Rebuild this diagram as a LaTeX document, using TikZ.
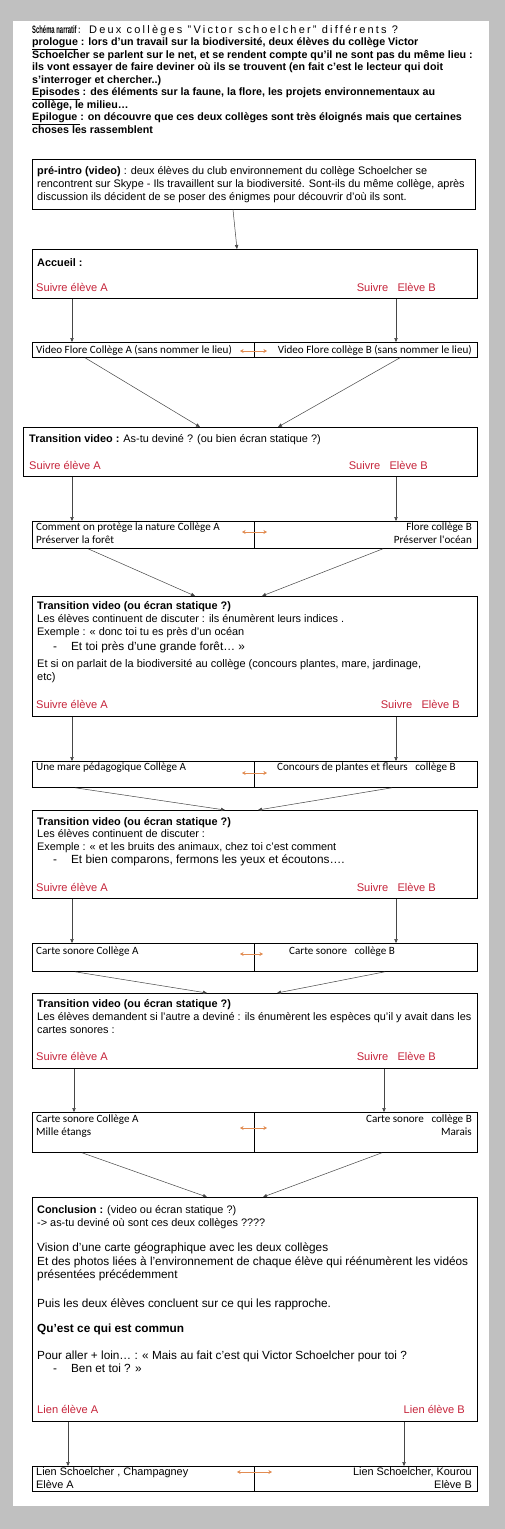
\documentclass[tikz,border=0pt]{standalone}
\usepackage{fontspec}
\setmainfont{Liberation Sans}
\newfontfamily\calibri{Carlito}
\usepackage{xcolor}
\usepackage{graphicx}
\usetikzlibrary{arrows.meta,calc}

\definecolor{pagegray}{RGB}{192,192,192}
\definecolor{pickred}{RGB}{198,36,58}
\definecolor{swaporange}{RGB}{226,140,82}
\definecolor{linkgray}{RGB}{70,70,70}

\begin{document}
\begin{tikzpicture}[
x=1pt,y=-1pt,
>={Triangle[length=4pt,width=3.4pt]},
every node/.style={inner sep=0pt},
box/.style={draw,line width=0.75pt,anchor=north west,minimum width=445},
txt/.style={anchor=north west,align=left,font=\fontsize{10.9}{13}\selectfont,execute at begin node=\strut},
bigtxt/.style={txt,font=\fontsize{11.8}{13.5}\selectfont},
pick/.style={text=pickred,font=\fontsize{11.1}{13}\selectfont,anchor=base west},
pickr/.style={pick,anchor=base east},
cell/.style={anchor=north west,align=left,font=\calibri\fontsize{11.1}{13}\selectfont,execute at begin node=\strut},
cellr/.style={cell,anchor=north east,align=right},
link/.style={->,draw=linkgray,line width=0.5pt},
swap/.style={<->,draw=swaporange,line width=1pt,>={Stealth[length=3.6pt,width=4pt]}}
]

% Page
\useasboundingbox (0,0) rectangle (505,1529);
\fill[pagegray] (0,0) rectangle (505,1529);
\fill[white] (13,21) rectangle (489,1506);

% Header
\node[txt,font=\bfseries\fontsize{10.7}{12.5}\selectfont] (head) at (32,24.8)
{\scalebox{0.55}[1]{Schéma narratif :}\ \ \ {\mdseries\fontsize{11}{12.5}\selectfont\addfontfeature{LetterSpace=20}Deux collèges "Victor schoelcher" différents ?}\\
\underline{prologue} : lors d'un travail sur la biodiversité, deux élèves du collège Victor\\
Schoelcher se parlent sur le net, et se rendent compte qu'il ne sont pas du même lieu :\\
ils vont essayer de faire deviner où ils se trouvent (en fait c'est le lecteur qui doit\\
s'interroger et chercher..)\\
\underline{Episodes} : des éléments sur la faune, la flore, les projets environnementaux au\\
collège, le milieu…\\
\underline{Epilogue\ }: on découvre que ces deux collèges sont très éloignés mais que certaines\\
choses les rassemblent};

% Boxes
\node[box,minimum width=443,minimum height=50] (intro) at (32,159) {};
\node[box,minimum height=49] (accueil) at (32,249) {};
\node[box,minimum height=15] (flore) at (32,342) {};
\node[box,minimum width=454,minimum height=49] (trans1) at (23,427) {};
\node[box,minimum height=27] (protege) at (32,521) {};
\node[box,minimum height=120] (trans2) at (32,596) {};
\node[box,minimum height=26] (mare) at (32,761) {};
\node[box,minimum height=88] (trans3) at (32,810) {};
\node[box,minimum height=28] (carte) at (32,943) {};
\node[box,minimum height=75] (trans4) at (32,993) {};
\node[box,minimum height=40] (cartb) at (32,1112) {};
\node[box,minimum height=224] (concl) at (32,1197) {};
\node[box,minimum height=25] (lien) at (32,1466) {};

\foreach \b in {flore,protege,mare,carte,cartb,lien}
  \draw[line width=0.6pt] ($(\b.north west)+(222,0)$) -- ($(\b.south west)+(222,0)$);

% Pre-intro
\node[txt,font=\fontsize{10.9}{13.3}\selectfont] (introtxt) at (37,165.8)
{\textbf{pré-intro (video)} : deux élèves du club environnement du collège Schoelcher se\\
rencontrent sur Skype - Ils travaillent sur la biodiversité. Sont-ils du même collège, après\\
discussion ils décident de se poser des énigmes pour découvrir d'où ils sont.};

% Accueil
\node[txt] (accueiltxt) at (37,256.8) {\textbf{Accueil :}};
\node[pick] (acca) at (36,291) {Suivre élève A};
\node[pickr] (accb) at (436,291) {Suivre\ \ \ Elève B};

\node[cell] (florea) at (36,344.2) {Video Flore Collège A (sans nommer le lieu)};
\node[cellr] (floreb) at (472,344.2) {Video Flore collège B (sans nommer le lieu)};

% Transition 1
\node[txt] (trans1txt) at (29,432.8) {\textbf{Transition video :} As-tu deviné ? (ou bien écran statique ?)};
\node[pick] (t1a) at (29,469) {Suivre élève A};
\node[pickr] (t1b) at (428,469) {Suivre\ \ \ Elève B};

\node[cell] (protegea) at (36,522.6) {Comment on protège la nature Collège A\\Préserver la forêt};
\node[cellr] (protegeb) at (472,522.6) {Flore collège B\\Préserver l'océan};

% Transition 2
\node[txt] (trans2txt) at (37,600.8)
{\textbf{Transition video (ou écran statique ?)}\\
Les élèves continuent de discuter : ils énumèrent leurs indices .\\
Exemple : « donc toi tu es près d'un océan};
\node[bigtxt] (trans2dash) at (37,641.3) {\hspace*{16pt}-\hspace*{14pt}Et toi près d'une grande forêt… »};
\node[txt,font=\fontsize{11}{13}\selectfont] (trans2more) at (37,658.8)
{Et si on parlait de la biodiversité au collège (concours plantes, mare, jardinage,\\etc)};
\node[pick] (t2a) at (36,708) {Suivre élève A};
\node[pickr] (t2b) at (460,708) {Suivre\ \ \ Elève B};

\node[cell] (marea) at (36,761.6) {Une mare pédagogique Collège A};
\node[cell] (mareb) at (277,761.6) {Concours de plantes et fleurs\ \ \ collège B};

% Transition 3
\node[txt,font=\fontsize{10.9}{12.5}\selectfont] (trans3txt) at (37,817.2)
{\textbf{Transition video (ou écran statique ?)}\\
Les élèves continuent de discuter :\\
Exemple : « et les bruits des animaux, chez toi c'est comment};
\node[bigtxt] (trans3dash) at (37,853.8) {\hspace*{16pt}-\hspace*{14pt}Et bien comparons, fermons les yeux et écoutons….};
\node[pick] (t3a) at (36,891) {Suivre élève A};
\node[pickr] (t3b) at (436,891) {Suivre\ \ \ Elève B};

\node[cell] (cartea) at (36,945.6) {Carte sonore Collège A};
\node[cell] (carteb) at (289,945.6) {Carte sonore\ \ \ collège B};

% Transition 4
\node[txt] (trans4txt) at (37,998.8)
{\textbf{Transition video (ou écran statique ?)}\\
Les élèves demandent si l'autre a deviné : ils énumèrent les espèces qu'il y avait dans les\\
cartes sonores :};
\node[pick] (t4a) at (36,1060) {Suivre élève A};
\node[pickr] (t4b) at (436,1060) {Suivre\ \ \ Elève B};

\node[cell] (cartba) at (36,1114.6) {Carte sonore Collège A\\Mille étangs};
\node[cellr] (cartbb) at (472,1114.6) {Carte sonore\ \ \ collège B\\Marais};

% Conclusion
\node[txt] (concltxt) at (37,1204.8)
{\textbf{Conclusion :} (video ou écran statique ?)\\
-> as-tu deviné où sont ces deux collèges ????};
\node[bigtxt] (conclvision) at (37,1242.8)
{Vision d'une carte géographique avec les deux collèges\\
Et des photos liées à l'environnement de chaque élève qui réénumèrent les vidéos\\
présentées précédemment};
\node[bigtxt] (conclpuis) at (37,1297.8) {Puis les deux élèves concluent sur ce qui les rapproche.};
\node[bigtxt] (conclcommun) at (37,1322.8) {\textbf{Qu'est ce qui est commun}};
\node[bigtxt,font=\fontsize{11.8}{13}\selectfont] (conclloin) at (37,1350.8)
{Pour aller + loin… : « Mais au fait c'est qui Victor Schoelcher pour toi ?\\
\hspace*{16pt}-\hspace*{14pt}Ben et toi ? »};
\node[pick] (cla) at (37,1413) {Lien élève A};
\node[pickr] (clb) at (465,1413) {Lien élève B};

\node[txt] (liena) at (36,1467) {Lien Schoelcher , Champagney\\Elève A};
\node[txt,anchor=north east,align=right] (lienb) at (472,1467) {Lien Schoelcher, Kourou\\Elève B};

% Connectors
\draw[link] ($(intro.south west)+(201,0)$) -- ($(accueil.north west)+(205,0)$);

\draw[link] ($(accueil.south west)+(40,0)$) -- ($(flore.north west)+(40,0)$);
\draw[link] ($(accueil.south west)+(364,0)$) -- ($(flore.north west)+(364,0)$);
\draw[link] ($(flore.south west)+(53,0)$) -- ($(trans1.north west)+(177,0)$);
\draw[link] ($(flore.south west)+(368,0)$) -- ($(trans1.north west)+(255,0)$);

\draw[link] ($(trans1.south west)+(49,0)$) -- ($(protege.north west)+(40,0)$);
\draw[link] ($(trans1.south west)+(373,0)$) -- ($(protege.north west)+(364,0)$);
\draw[link] ($(protege.south west)+(56,0)$) -- ($(trans2.north west)+(163,0)$);
\draw[link] ($(protege.south west)+(351,0)$) -- ($(trans2.north west)+(230,0)$);

\draw[link] ($(trans2.south west)+(40,0)$) -- ($(mare.north west)+(40,0)$);
\draw[link] ($(trans2.south west)+(364,0)$) -- ($(mare.north west)+(364,0)$);
\draw[link] ($(mare.south west)+(43,0)$) -- ($(trans3.north west)+(193,0)$);
\draw[link] ($(mare.south west)+(360,0)$) -- ($(trans3.north west)+(226,0)$);

\draw[link] ($(trans3.south west)+(40,0)$) -- ($(carte.north west)+(40,0)$);
\draw[link] ($(trans3.south west)+(364,0)$) -- ($(carte.north west)+(364,0)$);
\draw[link] ($(carte.south west)+(43,0)$) -- ($(trans4.north west)+(175,0)$);
\draw[link] ($(carte.south west)+(353,0)$) -- ($(trans4.north west)+(245,0)$);

\draw[link] ($(trans4.south west)+(42,0)$) -- ($(cartb.north west)+(42,0)$);
\draw[link] ($(trans4.south west)+(352,0)$) -- ($(cartb.north west)+(352,0)$);
\draw[link] ($(cartb.south west)+(50,0)$) -- ($(concl.north west)+(175,0)$);
\draw[link] ($(cartb.south west)+(350,0)$) -- ($(concl.north west)+(231,0)$);

\draw[link] ($(concl.south west)+(36,0)$) -- ($(lien.north west)+(36,0)$);
\draw[link] ($(concl.south west)+(372,0)$) -- ($(lien.north west)+(372,0)$);

% Orange swaps
\draw[swap] ($(flore.north west)+(208,9)$) -- ($(flore.north west)+(235,9)$);
\draw[swap] ($(protege.north west)+(210,11)$) -- ($(protege.north west)+(235,11)$);
\draw[swap] ($(mare.north west)+(210,12)$) -- ($(mare.north west)+(235,12)$);
\draw[swap] ($(carte.north west)+(208,11)$) -- ($(carte.north west)+(231,11)$);
\draw[swap] ($(cartb.north west)+(208,16)$) -- ($(cartb.north west)+(235,16)$);
\draw[swap] ($(lien.north west)+(205,6)$) -- ($(lien.north west)+(240,6)$);

\end{tikzpicture}
\end{document}
